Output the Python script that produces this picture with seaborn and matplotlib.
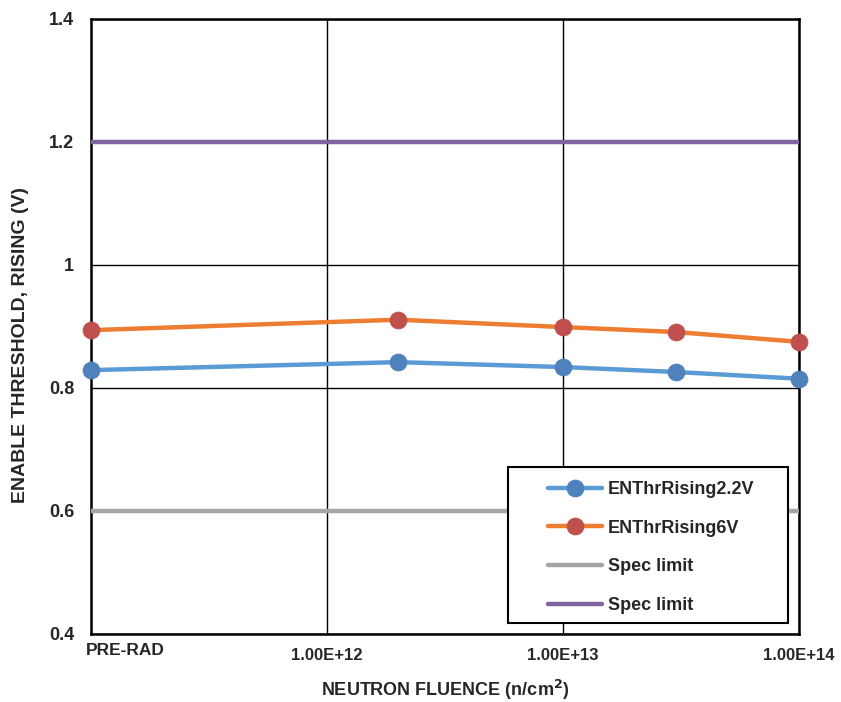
import numpy as np
import pandas as pd
import seaborn as sns
import matplotlib.pyplot as plt
from matplotlib.patches import Rectangle

# Data (PRE-RAD plotted at 1e11 on the log axis)
fluence = [1e11, 2e12, 1e13, 3e13, 1e14]
en_2v2 = [0.829, 0.842, 0.834, 0.826, 0.815]
en_6v = [0.894, 0.911, 0.899, 0.891, 0.875]
spec_low = 0.6
spec_high = 1.2
tick_pos = [1e12, 1e13, 1e14]
tick_labels = ['1.00E+12', '1.00E+13', '1.00E+14']

sns.set_style('white')
plt.rcParams['font.family'] = ['Liberation Sans', 'DejaVu Sans']
plt.rcParams['font.weight'] = 'bold'

df = pd.DataFrame({'fluence': fluence, 'ENThrRising2.2V': en_2v2, 'ENThrRising6V': en_6v})

fig = plt.figure(figsize=(8.41, 7.02), dpi=100)
ax = fig.add_axes([0.1082, 0.0969, 0.8419, 0.8761])

sns.lineplot(data=df, x='fluence', y='ENThrRising2.2V', ax=ax, color='#5B9BD5', lw=3.2,
             marker='o', markersize=12, markerfacecolor='#4F81BD', markeredgecolor='#4F81BD',
             label='ENThrRising2.2V', zorder=4, clip_on=False)
sns.lineplot(data=df, x='fluence', y='ENThrRising6V', ax=ax, color='#ED7D31', lw=3.2,
             marker='o', markersize=12, markerfacecolor='#C0504D', markeredgecolor='#C0504D',
             label='ENThrRising6V', zorder=4, clip_on=False)
ax.axhline(spec_low, color='#A5A5A5', lw=3.2, label='Spec limit', zorder=3)
ax.axhline(spec_high, color='#8064A2', lw=3.2, label='Spec limit', zorder=3)

ax.set_xscale('log')
ax.set_xlim(1e11, 1e14)
ax.set_ylim(0.4, 1.4)
ax.set_yticks([0.4, 0.6, 0.8, 1.0, 1.2, 1.4])
ax.set_yticklabels(['0.4', '0.6', '0.8', '1', '1.2', '1.4'], fontsize=13, fontweight='bold')
ax.set_xticks(tick_pos)
ax.set_xticklabels(tick_labels, fontsize=12, fontweight='bold')
ax.xaxis.set_minor_locator(plt.NullLocator())
ax.tick_params(axis='x', pad=10, length=0)
ax.tick_params(axis='y', length=0, pad=12)
ax.text(-0.007, -0.027, 'PRE-RAD', transform=ax.transAxes, fontsize=12.5, fontweight='bold',
        ha='left', va='center')

ax.grid(True, color='black', lw=1)
for s in ax.spines.values():
    s.set_color('black')
    s.set_linewidth(1.8)

ax.set_xlabel('NEUTRON FLUENCE (n/cm$^\\mathbf{2}$)', fontsize=13, fontweight='bold', labelpad=11)
ax.set_ylabel('ENABLE THRESHOLD, RISING (V)', fontsize=14, fontweight='bold')
ax.yaxis.set_label_coords(-0.087, 0.47)

# legend frame drawn separately to match the wide left padding
ax.add_patch(Rectangle((0.589, 0.0179), 0.3955, 0.2536, transform=ax.transAxes,
                       facecolor='white', edgecolor='black', lw=1.5, zorder=5))
leg = ax.legend(loc='upper left', bbox_to_anchor=(0.6455, 0.249), fontsize=13,
                frameon=False, borderpad=0, labelspacing=1.2, handlelength=3.0,
                handletextpad=0.3, borderaxespad=0)
leg.set_zorder(6)
for t in leg.get_texts():
    t.set_fontweight('bold')

fig.savefig('out.png', dpi=100)
